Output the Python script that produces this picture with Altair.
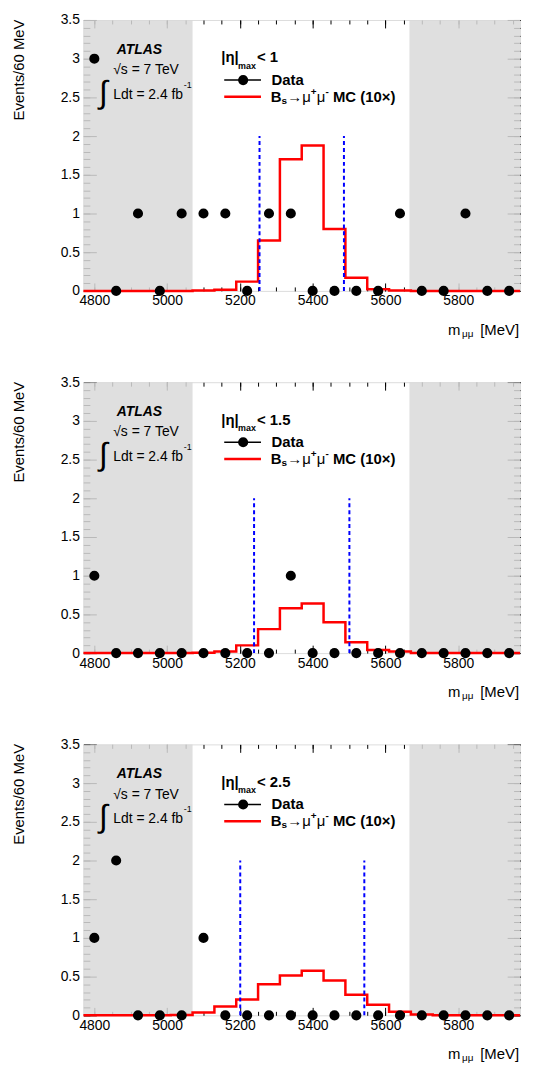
import altair as alt
import pandas as pd

# ---------------- data ----------------
bin_centers = [4800, 4860, 4920, 4980, 5040, 5100, 5160, 5220, 5280, 5340,
               5400, 5460, 5520, 5580, 5640, 5700, 5760, 5820, 5880, 5940]
bin_width = 60

panel_headers = ["< 1", "< 1.5", "< 2.5"]

data_counts = [
    [3, 0, 1, 0, 1, 1, 1, 0, 1, 1, 0, 0, 0, 0, 1, 0, 0, 1, 0, 0],
    [1, 0, 0, 0, 0, 0, 0, 0, 0, 1, 0, 0, 0, 0, 0, 0, 0, 0, 0, 0],
    [1, 2, 0, 0, 0, 1, 0, 0, 0, 0, 0, 0, 0, 0, 0, 0, 0, 0, 0, 0],
]
mc_counts = [
    [0, 0, 0, 0, 0, 0.005, 0.015, 0.12, 0.65, 1.70, 1.88, 0.80, 0.17, 0.02, 0.005, 0, 0, 0, 0, 0],
    [0, 0, 0, 0, 0, 0.005, 0.02, 0.10, 0.31, 0.58, 0.64, 0.40, 0.14, 0.04, 0.02, 0, 0, 0, 0, 0],
    [0, 0, 0, 0, 0.005, 0.035, 0.115, 0.205, 0.40, 0.515, 0.575, 0.45, 0.265, 0.135, 0.045, 0.01, 0, 0, 0, 0],
]
signal_windows = [[5254, 5486], [5239, 5501], [5201, 5542]]
window_line_top = 2.0
blinded_regions = [[4770, 5070], [5666, 5970]]

x_domain = [4770, 5970]
y_domain = [0, 3.5]
x_major_ticks = [4800, 5000, 5200, 5400, 5600, 5800]
x_minor_ticks = list(range(4800, 5970, 50))
y_major_ticks = [0, 0.5, 1, 1.5, 2, 2.5, 3, 3.5]
y_minor_ticks = [round(0.1 * i, 1) for i in range(36)]

FONT = "Liberation Sans"
W, H = 440, 273

xs = alt.Scale(domain=x_domain, nice=False, zero=False)
ys = alt.Scale(domain=y_domain, nice=False, zero=False)


def tick_axis(orient, values, size):
    return alt.Axis(orient=orient, values=values, tickSize=size, offset=-size,
                    labels=False, domain=False, grid=False, title=None,
                    ticks=True, tickColor="black", tickWidth=1)


AX_X_MAIN = alt.Axis(orient="bottom", values=x_major_ticks, ticks=False, domain=False,
                     grid=False, labelFontSize=14, labelFont=FONT, labelColor="black",
                     labelPadding=3, title=None, format="d", labelFlush=False,
                     labelOverlap=False)
AX_Y_MAIN = alt.Axis(orient="left", values=y_major_ticks, ticks=False, domain=False,
                     grid=False, labelFontSize=14, labelFont=FONT, labelColor="black",
                     labelPadding=4, format="~g", labelFlush=False, labelOverlap=False,
                     title="Events/60 MeV", titleFont=FONT, titleFontSize=15,
                     titleFontWeight="normal", titleColor="black", titleAnchor="end",
                     titleAlign="right", titleAngle=270, titleBaseline="bottom",
                     titleX=-57, titleY=-1)


def txt(t, x, y, size=14, weight="normal", style="normal", align="left", dx=0, dy=0):
    df = pd.DataFrame({"x": [x], "y": [y], "t": [t]})
    return alt.Chart(df).mark_text(font=FONT, fontSize=size, fontWeight=weight,
                                   fontStyle=style, align=align, baseline="middle",
                                   dx=dx, dy=dy, color="black").encode(
        x=alt.X("x:Q", scale=xs, axis=None),
        y=alt.Y("y:Q", scale=ys, axis=None),
        text="t:N")


def panel(i):
    shade_df = pd.DataFrame({"x0": [r[0] for r in blinded_regions],
                             "x1": [r[1] for r in blinded_regions],
                             "y0": y_domain[0], "y1": y_domain[1]})
    shade = alt.Chart(shade_df).mark_rect(fill="#d9d9d9", opacity=0.85).encode(
        x=alt.X("x0:Q", scale=xs, axis=AX_X_MAIN), x2="x1:Q",
        y=alt.Y("y0:Q", scale=ys, axis=AX_Y_MAIN), y2="y1:Q")

    edges = [c - bin_width / 2 for c in bin_centers] + [bin_centers[-1] + bin_width / 2]
    mc_df = pd.DataFrame({"edge": edges, "mc": mc_counts[i] + [mc_counts[i][-1]]})
    mc = alt.Chart(mc_df).mark_line(interpolate="step-after", color="#ff0000",
                                    strokeWidth=2.5).encode(
        x=alt.X("edge:Q", scale=xs, axis=tick_axis("bottom", x_major_ticks, 8)),
        y=alt.Y("mc:Q", scale=ys, axis=tick_axis("left", y_major_ticks, 13)))

    win_df = pd.DataFrame({"x": signal_windows[i], "y0": 0, "y1": window_line_top})
    win = alt.Chart(win_df).mark_rule(color="#0000ff", strokeWidth=2,
                                      strokeDash=[4, 3]).encode(
        x=alt.X("x:Q", scale=xs, axis=tick_axis("bottom", x_minor_ticks, 4)),
        y=alt.Y("y0:Q", scale=ys, axis=tick_axis("left", y_minor_ticks, 6.5)), y2="y1:Q")

    pts_df = pd.DataFrame({"c": bin_centers, "n": data_counts[i]})
    pts = alt.Chart(pts_df).mark_circle(size=104, color="black", opacity=1).encode(
        x=alt.X("c:Q", scale=xs, axis=tick_axis("top", x_major_ticks, 8)),
        y=alt.Y("n:Q", scale=ys, axis=tick_axis("right", y_major_ticks, 13)))

    # legend
    leg_df = pd.DataFrame({"x0": [5157, 5157], "x1": [5258, 5258], "y": [2.724, 2.507],
                           "col": ["black", "#ff0000"], "w": [1.5, 2.5]})
    leg_lines = alt.Chart(leg_df).mark_rule().encode(
        x=alt.X("x0:Q", scale=xs, axis=tick_axis("top", x_minor_ticks, 4)), x2="x1:Q",
        y=alt.Y("y:Q", scale=ys, axis=tick_axis("right", y_minor_ticks, 6.5)),
        color=alt.Color("col:N", scale=None),
        strokeWidth=alt.StrokeWidth("w:Q", scale=None))
    leg_dot = alt.Chart(pd.DataFrame({"x": [5209], "y": [2.724]})).mark_circle(
        size=104, color="black", opacity=1).encode(
        x=alt.X("x:Q", scale=xs, axis=None), y=alt.Y("y:Q", scale=ys, axis=None))

    texts = [
        txt("ATLAS", 4924, 3.118, size=14, weight="bold", style="italic", align="center"),
        txt("√s = 7 TeV", 4852, 2.851, size=14),
        txt("∫", 4825, 2.56, size=32, align="center"),
        txt("Ldt = 2.4 fb", 4852, 2.533, size=14),
        txt("-1", 5046, 2.66, size=9),
        txt("|η|", 5149, 3.016, size=15, weight="bold"),
        txt("max", 5195, 2.908, size=9, weight="bold"),
        txt(panel_headers[i], 5247, 3.016, size=15, weight="bold"),
        txt("Data", 5287, 2.724, size=15, weight="bold"),
        txt("B", 5285, 2.507, size=15, weight="bold"),
        txt("s", 5285, 2.507, size=10, weight="bold", dx=10.8, dy=4),
        txt("→μ", 5285, 2.507, size=15, dx=16.6),
        txt("+", 5285, 2.507, size=10, weight="bold", dx=40.2, dy=-5),
        txt("μ", 5285, 2.507, size=15, dx=46.3),
        txt("-", 5285, 2.507, size=10, weight="bold", dx=55.2, dy=-5),
        txt("MC (10×)", 5285, 2.507, size=15, weight="bold", dx=62.6),
        # x-axis title m_{mu mu} [MeV]
        txt("[MeV]", x_domain[1], 0, size=15, align="right", dx=-1, dy=39),
        txt("μμ", x_domain[1], 0, size=10, align="right", dx=-47, dy=43),
        txt("m", x_domain[1], 0, size=15, align="right", dx=-60, dy=39),
    ]

    return alt.layer(shade, mc, win, pts, leg_lines, leg_dot, *texts).resolve_axis(
        x="independent", y="independent").properties(width=W, height=H)


chart = alt.vconcat(panel(0), panel(1), panel(2), spacing=35).properties(
    padding={"left": 3, "top": 0, "right": 0, "bottom": 0}
).configure_view(stroke="black", strokeWidth=1.5).configure(font=FONT)

chart.save("out.html", embed_options={"renderer": "svg", "actions": False})
